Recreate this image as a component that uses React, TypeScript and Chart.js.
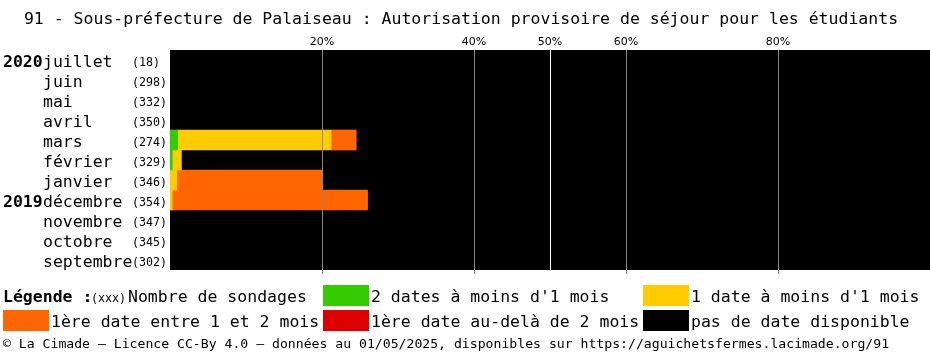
import React, { useEffect, useRef } from "react";
import { Chart, registerables } from "chart.js";

Chart.register(...registerables);

const titleText = "91 - Sous-préfecture de Palaiseau : Autorisation provisoire de séjour pour les étudiants";
const months = ["juillet", "juin", "mai", "avril", "mars", "février", "janvier", "décembre", "novembre", "octobre", "septembre"];
const years = ["2020", "", "", "", "", "", "", "2019", "", "", ""];
const counts = [18, 298, 332, 350, 274, 329, 346, 354, 347, 345, 302];

// percentages (null = none)
const green = [null, null, null, null, 1.0, 0.3, null, null, null, null, null];
const yellow = [null, null, null, null, 20.2, 1.2, 0.9, 0.3, null, null, null];
const orange = [null, null, null, null, 3.3, null, 19.1, 25.7, null, null, null];
const red = [null, null, null, null, null, null, null, null, null, null, null];

const tickValues = [20, 40, 50, 60, 80];

const legendLabels = [
  "2 dates à moins d'1 mois",
  "1 date à moins d'1 mois",
  "1ère date entre 1 et 2 mois",
  "1ère date au-delà de 2 mois",
  "pas de date disponible",
];
const legendColors = ["#33cc00", "#ffcc00", "#ff6600", "#dd0000", "#000000"];
const footerText =
  "© La Cimade — Licence CC-By 4.0 — données au 01/05/2025, disponibles sur https://aguichetsfermes.lacimade.org/91";

const MONO = "'DejaVu Sans Mono', monospace";
const BIG = 16.5;

const customPlugin = {
  id: "custom",
  beforeDatasetsDraw(chart: any) {
    const { ctx, chartArea } = chart;
    ctx.save();
    ctx.fillStyle = legendColors[4];
    ctx.fillRect(chartArea.left, chartArea.top, chartArea.right - chartArea.left, chartArea.bottom - chartArea.top);
    ctx.restore();
  },
  afterDatasetsDraw(chart: any) {
    const { ctx, chartArea } = chart;
    const xs = chart.scales.x;
    ctx.save();
    ctx.lineWidth = 1;
    tickValues.forEach((v) => {
      const x = Math.round(xs.getPixelForValue(v)) + 0.5;
      ctx.strokeStyle = v === 50 ? "#ffffff" : "#888888";
      ctx.beginPath();
      ctx.moveTo(x, chartArea.top);
      ctx.lineTo(x, chartArea.bottom + 4);
      ctx.stroke();
    });
    ctx.restore();
  },
  afterDraw(chart: any) {
    const { ctx } = chart;
    const ys = chart.scales.y;
    ctx.save();
    ctx.fillStyle = "#000";
    ctx.textBaseline = "middle";
    // title
    ctx.font = `${BIG}px ${MONO}`;
    ctx.textAlign = "center";
    ctx.fillText(titleText, 461, 20);
    ctx.textAlign = "left";
    // row labels
    months.forEach((m, i) => {
      const y = ys.getPixelForValue(i) + 2.5;
      if (years[i]) {
        ctx.font = `bold ${BIG}px ${MONO}`;
        ctx.fillText(years[i], 3, y);
      }
      ctx.font = `${BIG}px ${MONO}`;
      ctx.fillText(m, 43, y);
      ctx.font = `11.67px ${MONO}`;
      ctx.fillText(`(${counts[i]})`, 132, y + 0.5);
    });
    // legend
    const l1 = 298;
    const l2 = 322.5;
    ctx.font = `bold ${BIG}px ${MONO}`;
    ctx.fillText("Légende :", 3, l1);
    ctx.font = `11.67px ${MONO}`;
    ctx.fillText("(xxx)", 91, l1 + 0.5);
    ctx.font = `${BIG}px ${MONO}`;
    ctx.fillText("Nombre de sondages", 128, l1);
    const boxes = [
      { x: 323, y: 285 },
      { x: 643, y: 285 },
      { x: 3, y: 310 },
      { x: 323, y: 310 },
      { x: 643, y: 310 },
    ];
    const textY = [l1, l1, l2, l2, l2];
    boxes.forEach((b, i) => {
      ctx.fillStyle = legendColors[i];
      ctx.fillRect(b.x, b.y, 46, 21);
      ctx.fillStyle = "#000";
      ctx.fillText(legendLabels[i], b.x + 48, textY[i]);
    });
    // footer
    ctx.font = `13.15px ${MONO}`;
    ctx.fillText(footerText, 3, 345);
    ctx.restore();
  },
};

export default function App() {
  const ref = useRef<HTMLCanvasElement>(null);
  useEffect(() => {
    if (!ref.current) return;
    const chart = new Chart(ref.current, {
      type: "bar",
      data: {
        labels: months,
        datasets: [
          { label: legendLabels[0], data: green, backgroundColor: legendColors[0] },
          { label: legendLabels[1], data: yellow, backgroundColor: legendColors[1] },
          { label: legendLabels[2], data: orange, backgroundColor: legendColors[2] },
          { label: legendLabels[3], data: red, backgroundColor: legendColors[3] },
        ],
      },
      options: {
        indexAxis: "y",
        responsive: false,
        animation: false,
        devicePixelRatio: 1,
        layout: { padding: { left: 170, right: 0, top: 30, bottom: 85 } },
        datasets: { bar: { barPercentage: 1, categoryPercentage: 1, borderWidth: 0 } },
        plugins: { legend: { display: false }, title: { display: false }, tooltip: { enabled: false } },
        scales: {
          x: {
            position: "top",
            stacked: true,
            min: 0,
            max: 100,
            afterBuildTicks: (s: any) => {
              s.ticks = tickValues.map((v) => ({ value: v }));
            },
            afterFit: (s: any) => {
              s.height = 20;
            },
            grid: { display: false, drawTicks: false, tickLength: 0 },
            border: { display: false },
            ticks: {
              padding: 1,
              color: "#000",
              autoSkip: false,
              maxRotation: 0,
              font: { family: "'DejaVu Sans', sans-serif", size: 11 },
              callback: (v: any) => `${v}%`,
            },
          },
          y: {
            stacked: true,
            display: false,
          },
        },
      },
      plugins: [customPlugin],
    } as any);
    return () => chart.destroy();
  }, []);
  return (
    <div style={{ position: "absolute", left: 0, top: 0, width: 930, height: 355, background: "#fff" }}>
      <canvas ref={ref} width={930} height={355} />
    </div>
  );
}
